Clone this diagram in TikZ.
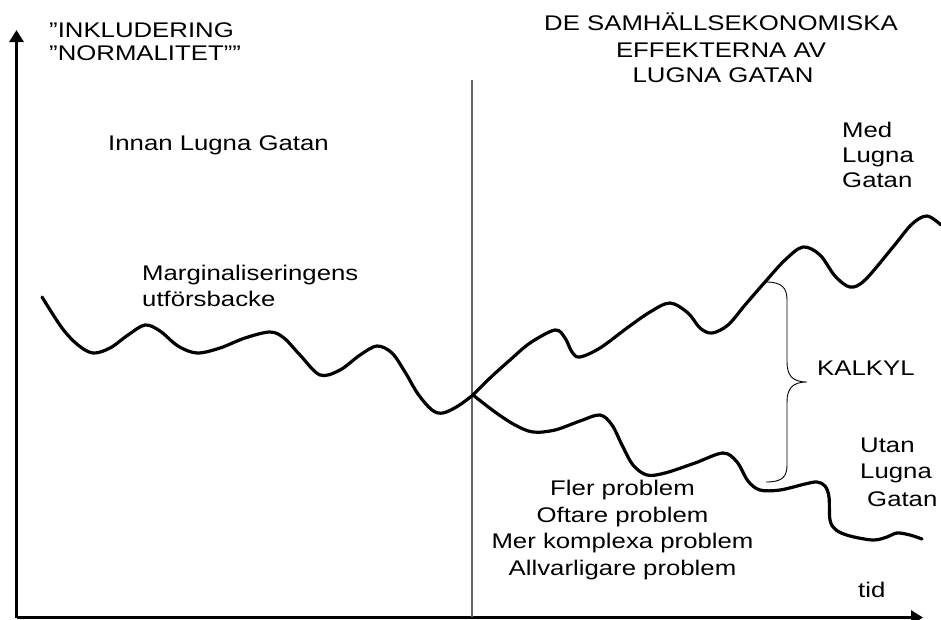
\documentclass[tikz,border=0pt]{standalone}
\usepackage{fontspec}
\setmainfont{Liberation Sans}[FakeStretch=1.215]
\usetikzlibrary{arrows.meta}
\begin{document}
\begin{tikzpicture}[x=1pt,y=-1pt,
  lbl/.style={inner sep=0pt,font=\fontsize{21.2}{26}\selectfont},
  curve/.style={line width=3.2pt,line join=round,line cap=round},
  axis/.style={line width=3.6pt,-{Triangle[width=14pt,length=12pt]}},
  divider/.style={line width=1.3pt,black!60}]
\useasboundingbox (0,0) rectangle (941,619);
% axes
\coordinate (o) at (16.5,617.5);
\coordinate (ytop) at (16.5,30);
\coordinate (xend) at (923,617.5);
\draw[axis] (o) -- (ytop);
\draw[axis] (o) -- (xend);
% divider
\coordinate (dtop) at (472,80);
\coordinate (dbot) at (472,617);
\draw[divider] (dtop) -- (dbot);
% curves
\draw[curve] plot[smooth,tension=0.55] coordinates {
 (42,297) (62,328) (78,345) (93,353) (110,348) (128,335) (145,325) (160,331)
 (178,346) (197,353) (220,348) (245,338) (270,332) (284,338) (300,355)
 (320,375) (340,370) (360,355) (377,346) (392,353) (405,372) (418,394)
 (432,410) (443,413) (458,406) (473,395)};
\draw[curve] plot[smooth,tension=0.55] coordinates {
 (473,395) (490,378) (510,360) (530,343) (555,330) (565,338) (572,352)
 (580,357) (600,348) (627,328) (650,312) (670,303) (688,313) (700,328)
 (712,333) (728,325) (745,305) (765,282) (785,260) (803,247) (820,255)
 (835,276) (850,287) (865,280) (893,247) (912,224) (927,216) (941,225)};
\draw[curve] plot[smooth,tension=0.55] coordinates {
 (473,395) (495,412) (515,425) (533,432) (555,430) (580,421) (600,415)
 (612,425) (622,445) (633,465) (647,475) (665,473) (695,463) (723,453)
 (737,462) (748,481) (760,490) (780,490) (805,484) (817,482) (825,486)
 (829,497) (830,520) (836,530) (850,536) (873,540) (887,537) (897,533)
 (910,535) (922,539)};
% brace
\coordinate (btop) at (766,282);
\coordinate (btip) at (807,382);
\coordinate (bbot) at (766,482);
\draw[line width=0.9pt] (btop) .. controls (782,282) and (787,288) .. (787,300)
  -- (787,362) .. controls (787,375) and (792,382) .. (btip)
  .. controls (792,382) and (787,389) .. (787,402)
  -- (787,465) .. controls (787,477) and (782,482) .. (bbot);
% texts
\node[lbl,anchor=base west] (inkl) at (49,37) {”INKLUDERING};
\node[lbl,anchor=base west] (norm) at (49,60) {”NORMALITET””};
\node[lbl,anchor=base west] (innan) at (108,150) {Innan Lugna Gatan};
\node[lbl,anchor=base west] (marg1) at (142,280) {Marginaliseringens};
\node[lbl,anchor=base west] (marg2) at (142,306) {utförsbacke};
\node[lbl,anchor=base] (t1) at (721,30) {DE SAMHÄLLSEKONOMISKA};
\node[lbl,anchor=base] (t2) at (721,57) {EFFEKTERNA AV};
\node[lbl,anchor=base] (t3) at (723,82) {LUGNA GATAN};
\node[lbl,anchor=base west] (med1) at (842,137) {Med};
\node[lbl,anchor=base west] (med2) at (842,162) {Lugna};
\node[lbl,anchor=base west] (med3) at (842,187) {Gatan};
\node[lbl,anchor=base west] (kalkyl) at (817,375) {KALKYL};
\node[lbl,anchor=base west] (utan1) at (860,452) {Utan};
\node[lbl,anchor=base west] (utan2) at (860,478) {Lugna};
\node[lbl,anchor=base west] (utan3) at (867,506) {Gatan};
\node[lbl,anchor=base] (p1) at (622.5,495) {Fler problem};
\node[lbl,anchor=base] (p2) at (622.5,522) {Oftare problem};
\node[lbl,anchor=base] (p3) at (622.5,548) {Mer komplexa problem};
\node[lbl,anchor=base] (p4) at (622.5,575) {Allvarligare problem};
\node[lbl,anchor=base west] (tid) at (858,597) {tid};
\end{tikzpicture}
\end{document}
